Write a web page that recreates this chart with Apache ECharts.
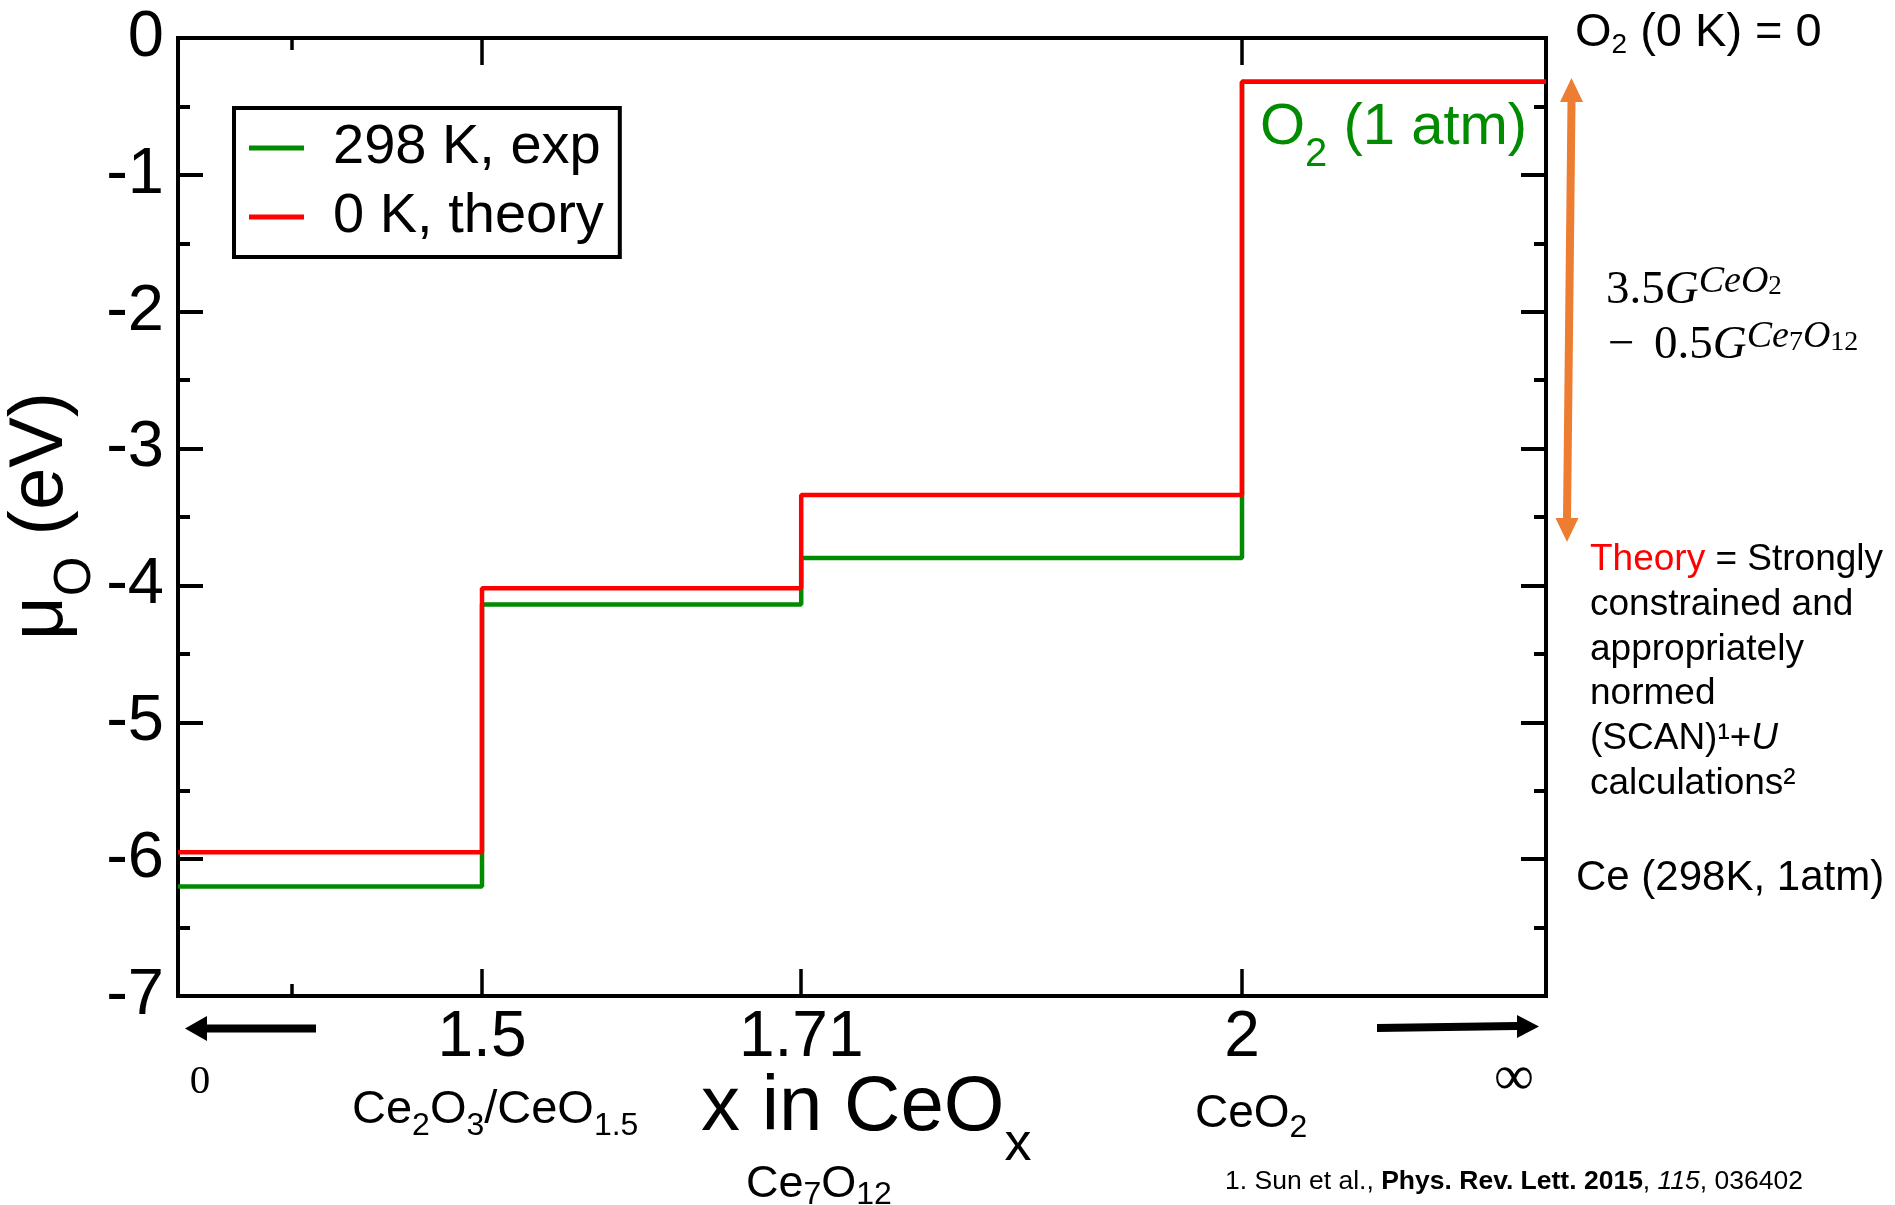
<!DOCTYPE html>
<html><head><meta charset="utf-8">
<script src="https://cdn.jsdelivr.net/npm/echarts@6/dist/echarts.min.js"></script>
<style>html,body{margin:0;padding:0;background:#fff}#c{width:1895px;height:1205px}</style>
</head><body><div id="c"></div>
<script>
// ---------------- data ----------------
const xBreaks = [1.3, 1.5, 1.71, 2.0, 2.2];
const expLevels = [-6.20, -4.14, -3.80, -0.32];     // 298 K, exp
const theoryLevels = [-5.95, -4.02, -3.34, -0.32];  // 0 K, theory
const seriesNames = ['298 K, exp', '0 K, theory'];
const xMajorTicks = [1.5, 1.71, 2];
const xTickLabels = ['1.5', '1.71', '2'];
const xMinorTicks = [1.375];
const xTopMajorTicks = [1.5, 2];
const yMin = -7, yMax = 0, yStep = 1;

// ---------------- helpers ----------------
const GREEN = '#008b00', RED = '#ff0000', ORANGE = '#ed7d31';
const SANS = '"Liberation Sans", Arial, Helvetica, sans-serif';
const SERIF = '"Liberation Serif", "Times New Roman", serif';
const mc = document.createElement('canvas').getContext('2d');
function fontStr(s, fam, w, st) { return (st || 'normal') + ' ' + (w || 'normal') + ' ' + s + 'px ' + fam; }
function measure(t, font, s) {
  mc.font = font; mc.textBaseline = 'alphabetic';
  const m = mc.measureText(t);
  let off = 0.35 * s;
  if (m.fontBoundingBoxAscent !== undefined) off = (m.fontBoundingBoxAscent - m.fontBoundingBoxDescent) / 2;
  off -= 0.07 * s; // empirical correction for zrender 'middle' placement
  return { w: m.width, off: off };
}
function txt(t, x, y, font, fill, rot) {
  const el = { type: 'text', x: x, y: y, silent: true, z: 100,
    style: { text: t, font: font, fill: fill, align: 'left', verticalAlign: 'middle',
             textAlign: 'left', textVerticalAlign: 'middle' } };
  if (rot) el.rotation = rot;
  return el;
}
// horizontal run of segments sharing a baseline
function seq(x0, base, segs) {
  const out = []; let x = x0;
  segs.forEach(sg => {
    const font = fontStr(sg.s, sg.f || SANS, sg.w, sg.st);
    const m = measure(sg.t, font, sg.s);
    if (sg.x != null) x = sg.x;
    out.push(txt(sg.t, x, base + (sg.dy || 0) - m.off, font, sg.c || '#000'));
    x += m.w;
  });
  return out;
}
function runWidth(segs) {
  let w = 0;
  segs.forEach(sg => { w += measure(sg.t, fontStr(sg.s, sg.f || SANS, sg.w, sg.st), sg.s).w; });
  return w;
}
// run rotated 90deg CCW: reads bottom->top, baseline is vertical line at screen x = baseX
function seqRot(y0, baseX, segs) {
  const out = []; let u = 0;
  segs.forEach(sg => {
    const font = fontStr(sg.s, sg.f || SANS, sg.w, sg.st);
    const m = measure(sg.t, font, sg.s);
    const v = (sg.dy || 0) - m.off;
    out.push(txt(sg.t, baseX + v, y0 - u, font, sg.c || '#000', Math.PI / 2));
    u += m.w;
  });
  return out;
}
function stepData(levels) {
  const d = levels.map((v, i) => [xBreaks[i], v]);
  d.push([xBreaks[xBreaks.length - 1], levels[levels.length - 1]]);
  return d;
}

// ---------------- annotations ----------------
let g = [];
// y axis name  mu_O (eV)
g = g.concat(seqRot(640, 62, [
  { t: 'μ', s: 76 }, { t: 'O', s: 51, dy: 28 }, { t: ' (eV)', s: 76 }
]));
// x axis name  x in CeO_x
g = g.concat(seq(701, 1130, [{ t: 'x in CeO', s: 78 }, { t: 'x', s: 54, dy: 30 }]));
// compound labels
g = g.concat(seq(352, 1123, [
  { t: 'Ce', s: 47 }, { t: '2', s: 32, dy: 12 }, { t: 'O', s: 47 }, { t: '3', s: 32, dy: 12 },
  { t: '/CeO', s: 47 }, { t: '1.5', s: 32, dy: 12 }
]));
g = g.concat(seq(746, 1197, [
  { t: 'Ce', s: 45 }, { t: '7', s: 32, dy: 7 }, { t: 'O', s: 45 }, { t: '12', s: 32, dy: 7 }
]));
g = g.concat(seq(1195, 1127, [{ t: 'CeO', s: 46 }, { t: '2', s: 32, dy: 10 }]));
// 0 and infinity
(function () {
  const f0 = fontStr(41, SERIF), m0 = measure('0', f0, 41);
  g.push(txt('0', 200 - m0.w / 2, 1093 - m0.off, f0, '#000'));
  const fi = fontStr(56, SERIF), mi = measure('∞', fi, 56);
  g.push(txt('∞', 1514 - mi.w / 2, 1094 - mi.off, fi, '#000'));
})();
// in-plot O2 (1 atm)
g = g.concat(seq(1260, 144, [
  { t: 'O', s: 58, c: GREEN }, { t: '2', s: 40, dy: 22, c: GREEN }, { t: ' (1 atm)', s: 58, c: GREEN }
]));
// O2 (0 K) = 0
g = g.concat(seq(1575, 46, [{ t: 'O', s: 47 }, { t: '2', s: 28, dy: 7 }, { t: ' (0 K) = 0', s: 47 }]));
// math expression
g = g.concat(seq(1606, 303, [
  { t: '3.5', s: 47, f: SERIF }, { t: 'G', s: 47, f: SERIF, st: 'italic' },
  { t: 'CeO', s: 38, f: SERIF, st: 'italic', dy: -11 }, { t: '2', s: 27, f: SERIF, dy: -9 }
]));
g = g.concat(seq(1608, 358, [
  { t: '−', s: 47, f: SERIF }, { t: '0.5', s: 47, f: SERIF, x: 1654 }, { t: 'G', s: 47, f: SERIF, st: 'italic' },
  { t: 'Ce', s: 38, f: SERIF, st: 'italic', dy: -11 }, { t: '7', s: 28, f: SERIF, dy: -8 },
  { t: 'O', s: 38, f: SERIF, st: 'italic', dy: -11 }, { t: '12', s: 28, f: SERIF, dy: -8 }
]));
// theory block
const TB = 570, TL = 44.7;
g = g.concat(seq(1590, TB, [{ t: 'Theory', s: 37, c: RED }, { t: ' = Strongly', s: 37 }]));
g = g.concat(seq(1590, TB + TL, [{ t: 'constrained and', s: 37 }]));
g = g.concat(seq(1590, TB + 2 * TL, [{ t: 'appropriately', s: 37 }]));
g = g.concat(seq(1590, TB + 3 * TL, [{ t: 'normed', s: 37 }]));
g = g.concat(seq(1590, TB + 4 * TL, [{ t: '(SCAN)¹+', s: 37 }, { t: 'U', s: 37, st: 'italic' }]));
g = g.concat(seq(1590, TB + 5 * TL, [{ t: 'calculations²', s: 37 }]));
g = g.concat(seq(1576, 890, [{ t: 'Ce (298K, 1atm)', s: 42 }]));
// citation (right end at x = 1803)
(function () {
  const cs = 26.5;
  const segs = [
    { t: '1. Sun et al., ', s: cs }, { t: 'Phys. Rev. Lett. 2015', s: cs, w: 'bold' },
    { t: ', ', s: cs }, { t: '115', s: cs, st: 'italic' }, { t: ', 036402', s: cs }
  ];
  g = g.concat(seq(1803 - runWidth(segs), 1189, segs));
})();
// arrows
g.push({ type: 'polygon', silent: true, z: 90, shape: { points: [
  [185, 1028.5], [207, 1016], [207, 1024.5], [316, 1024.5], [316, 1032.5], [207, 1032.5], [207, 1041]
] }, style: { fill: '#000' } });
g.push({ type: 'polygon', silent: true, z: 90, shape: { points: [
  [1377, 1024], [1517, 1022], [1517, 1015], [1539, 1026.5], [1517, 1038], [1517, 1030], [1377, 1032]
] }, style: { fill: '#000' } });
g.push({ type: 'polygon', silent: true, z: 90, shape: { points: [
  [1571.5, 78], [1583, 102], [1575.5, 102], [1571, 518], [1578.5, 518], [1567, 542],
  [1555.5, 518], [1563, 518], [1567.5, 102], [1560, 102]
] }, style: { fill: ORANGE } });

// ---------------- chart ----------------
const chart = echarts.init(document.getElementById('c'), null, { renderer: 'canvas' });
const axisLineStyle = { color: '#000', width: 4, cap: 'square' };
function xAx(pos, showLine, ticks, len, labels) {
  return {
    type: 'value', position: pos, min: xBreaks[0], max: xBreaks[xBreaks.length - 1],
    axisLine: { show: showLine, onZero: false, lineStyle: axisLineStyle },
    axisTick: { show: true, inside: true, length: len, customValues: ticks, lineStyle: { color: '#000', width: 3.5 } },
    axisLabel: labels ? {
      show: true, customValues: xMajorTicks, margin: 10, color: '#000', fontSize: 64, fontFamily: SANS,
      formatter: v => { const i = xMajorTicks.indexOf(v); return i >= 0 ? xTickLabels[i] : ''; }
    } : { show: false },
    splitLine: { show: false }, minorTick: { show: false }
  };
}
function yAx(pos, labels) {
  return {
    type: 'value', position: pos, min: yMin, max: yMax, interval: yStep,
    axisLine: { show: true, onZero: false, lineStyle: axisLineStyle },
    axisTick: { show: true, inside: true, length: 25, lineStyle: { color: '#000', width: 4 } },
    minorTick: { show: true, splitNumber: 2, length: 12, lineStyle: { color: '#000', width: 4 } },
    axisLabel: labels ? { show: true, margin: 14, color: '#000', fontSize: 65, fontFamily: SANS, padding: [6, 0, 0, 0] } : { show: false },
    splitLine: { show: false }, minorSplitLine: { show: false }
  };
}
chart.setOption({
  animation: false,
  backgroundColor: '#fff',
  grid: { left: 178, top: 38, width: 1368, height: 958, containLabel: false },
  xAxis: [
    xAx('bottom', true, xMajorTicks, 27, true),
    xAx('bottom', false, xMinorTicks, 12, false),
    xAx('top', true, xTopMajorTicks, 27, false),
    xAx('top', false, xMinorTicks, 12, false)
  ],
  yAxis: [yAx('left', true), yAx('right', false)],
  legend: {
    show: true, orient: 'vertical', left: 234, top: 108,
    padding: [12, 16, 12, 15], itemGap: 13, itemWidth: 55, itemHeight: 5,
    backgroundColor: '#fff', borderColor: '#000', borderWidth: 4,
    icon: 'rect', itemStyle: { borderWidth: 0 },
    textStyle: { fontSize: 56, fontFamily: SANS, color: '#000', padding: [4, 0, 0, 24] },
    data: seriesNames, selectedMode: false
  },
  series: [
    { name: seriesNames[0], type: 'line', step: 'end', data: stepData(expLevels),
      xAxisIndex: 0, yAxisIndex: 0, showSymbol: false, symbol: 'none', z: 3,
      lineStyle: { color: GREEN, width: 4.5 }, itemStyle: { color: GREEN } },
    { name: seriesNames[1], type: 'line', step: 'end', data: stepData(theoryLevels),
      xAxisIndex: 0, yAxisIndex: 0, showSymbol: false, symbol: 'none', z: 4,
      lineStyle: { color: RED, width: 4.5 }, itemStyle: { color: RED } }
  ],
  graphic: { elements: g }
});
</script></body></html>
